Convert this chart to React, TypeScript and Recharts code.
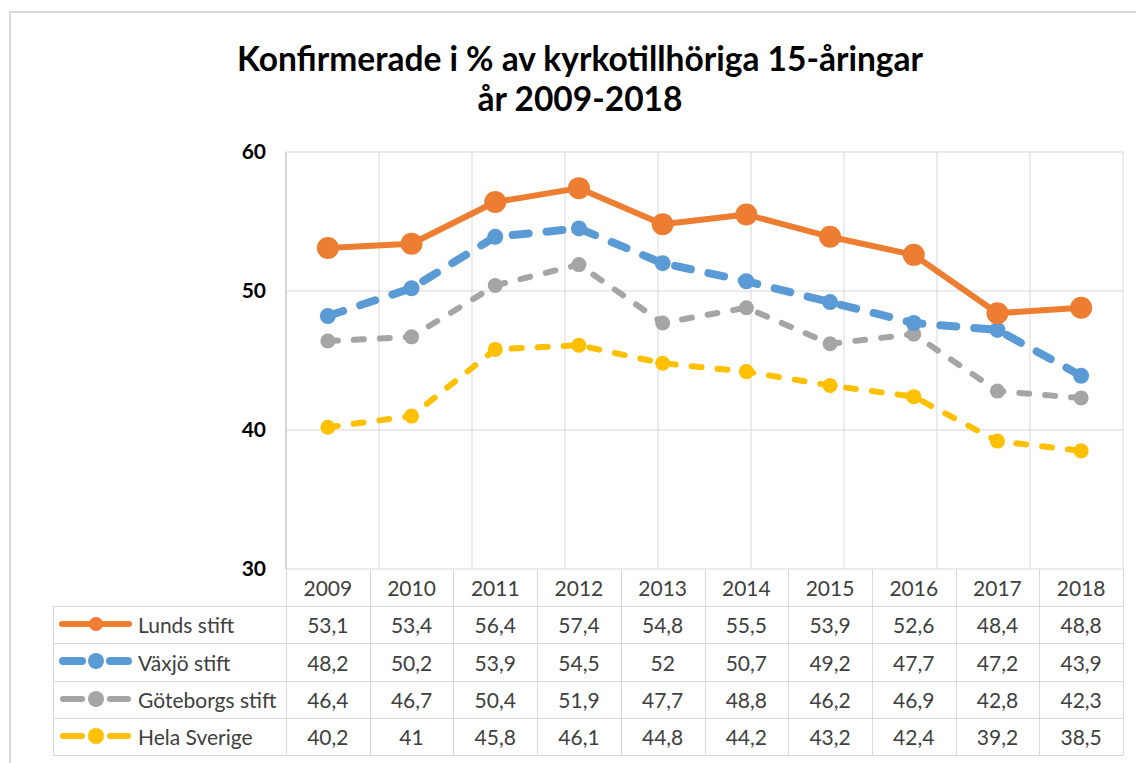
import { CartesianGrid, Line, LineChart, XAxis, YAxis } from 'recharts'

// Konfirmerade i % av kyrkotillhöriga 15-åringar, 2009-2018
const years = ['2009', '2010', '2011', '2012', '2013', '2014', '2015', '2016', '2017', '2018']
const lunds = [53.1, 53.4, 56.4, 57.4, 54.8, 55.5, 53.9, 52.6, 48.4, 48.8]
const vaxjo = [48.2, 50.2, 53.9, 54.5, 52, 50.7, 49.2, 47.7, 47.2, 43.9]
const goteborg = [46.4, 46.7, 50.4, 51.9, 47.7, 48.8, 46.2, 46.9, 42.8, 42.3]
const helaSverige = [40.2, 41, 45.8, 46.1, 44.8, 44.2, 43.2, 42.4, 39.2, 38.5]
const yTicks = [30, 40, 50, 60]
const gridTicks = [0, 1, 2, 3, 4, 5, 6, 7, 8, 9, 10]

const FONT = 'Lato, "Liberation Sans", sans-serif'
const TEXT = '#404040'
const GRID = '#d9d9d9'

// layout (px i fönstret)
const W = 1136
const H = 763
const PLOT_LEFT = 286
const PLOT_RIGHT = 1123
const PLOT_TOP = 152
const PLOT_BOTTOM = 569
const HEADER_BOTTOM = 606
const ROW_TOPS = [606, 643, 681, 718]
const TABLE_BOTTOM = 755
const TABLE_LEFT = 53
const COL_W = (PLOT_RIGHT - PLOT_LEFT) / years.length

type Serie = {
  key: string
  name: string
  values: number[]
  color: string
  width: number
  dash?: string
  r: number
}

const series: Serie[] = [
  { key: 'lunds', name: 'Lunds stift', values: lunds, color: '#ED7D31', width: 6, r: 11 },
  { key: 'vaxjo', name: 'Växjö stift', values: vaxjo, color: '#5B9BD5', width: 8, dash: '16 18', r: 8 },
  { key: 'goteborg', name: 'Göteborgs stift', values: goteborg, color: '#A5A5A5', width: 6, dash: '10 16', r: 7.5 },
  { key: 'sverige', name: 'Hela Sverige', values: helaSverige, color: '#FFC000', width: 6, dash: '10 16', r: 7.5 },
]

const data = years.map((year, i) => {
  const row: Record<string, string | number> = { year }
  series.forEach((s) => { row[s.key] = s.values[i] })
  return row
})

const fmt = (v: number) => String(v).replace('.', ',')

function YearTick(props: any) {
  const { x, y, payload } = props
  return (
    <text x={x} y={y + 18} textAnchor="middle" dominantBaseline="central" fontFamily={FONT} fontSize={21} fill={TEXT}>
      {payload.value}
    </text>
  )
}

function LegendKey({ s }: { s: Serie }) {
  const cy = 18
  return (
    <svg width={80} height={36} style={{ position: 'absolute', left: 56, top: 0 }}>
      {s.dash ? (
        <>
          <line x1={7} x2={26} y1={cy} y2={cy} stroke={s.color} strokeWidth={s.width} strokeLinecap="round" />
          <line x1={54} x2={72} y1={cy} y2={cy} stroke={s.color} strokeWidth={s.width} strokeLinecap="round" />
        </>
      ) : (
        <line x1={6} x2={73} y1={cy} y2={cy} stroke={s.color} strokeWidth={s.width} strokeLinecap="round" />
      )}
      <circle cx={40} cy={cy} r={s.dash ? 8 : 7} fill={s.color} />
    </svg>
  )
}

export default function App() {
  const vLines = gridTicks.map((k) => PLOT_LEFT + k * COL_W)
  const hLines = [...ROW_TOPS, TABLE_BOTTOM]
  return (
    <div style={{ position: 'absolute', left: 0, top: 0, width: W, height: H, background: '#fff', fontFamily: FONT, overflow: 'hidden' }}>
      {/* ram */}
      <div style={{ position: 'absolute', left: 9, top: 11, width: W, height: H, borderLeft: `2px solid ${GRID}`, borderTop: `2px solid ${GRID}` }} />

      <div style={{ position: 'absolute', left: 230, top: 38, width: 700, textAlign: 'center', fontWeight: 700, fontSize: 33.5, lineHeight: '40px', color: '#000', whiteSpace: 'nowrap' }}>
        Konfirmerade i % av kyrkotillhöriga 15-åringar
        <br />
        år 2009-2018
      </div>

      <div style={{ position: 'absolute', left: 0, top: 0 }}>
        <LineChart width={W} height={H} data={data} margin={{ top: PLOT_TOP, right: W - PLOT_RIGHT, bottom: H - HEADER_BOTTOM, left: PLOT_LEFT - 60 }}>
          <XAxis xAxisId="grid" type="number" domain={[0, 10]} ticks={gridTicks} hide />
          <CartesianGrid xAxisId="grid" stroke={GRID} strokeWidth={1} />
          <XAxis
            dataKey="year"
            height={HEADER_BOTTOM - PLOT_BOTTOM}
            padding={{ left: COL_W / 2, right: COL_W / 2 }}
            tickLine={false}
            axisLine={false}
            tickSize={0}
            tickMargin={0}
            tick={<YearTick />}
            interval={0}
          />
          <YAxis
            domain={[30, 60]}
            ticks={yTicks}
            width={60}
            tickLine={false}
            tickMargin={14}
            axisLine={{ stroke: '#bfbfbf' }}
            tick={{ fontFamily: FONT, fontSize: 21, fontWeight: 700, fill: '#000' }}
          />
          {[...series].reverse().map((s) => (
            <Line
              key={s.key}
              dataKey={s.key}
              name={s.name}
              stroke={s.color}
              strokeWidth={s.width}
              strokeDasharray={s.dash}
              strokeLinecap="round"
              strokeLinejoin="round"
              dot={{ r: s.r, fill: s.color, stroke: s.color, strokeWidth: 0 }}
              activeDot={false}
              isAnimationActive={false}
            />
          ))}
        </LineChart>
      </div>

      {/* datatabell */}
      {vLines.map((x, i) => (
        <div key={'v' + i} style={{ position: 'absolute', left: Math.round(x), top: PLOT_BOTTOM, width: 1, height: TABLE_BOTTOM - PLOT_BOTTOM, background: GRID }} />
      ))}
      <div style={{ position: 'absolute', left: TABLE_LEFT, top: HEADER_BOTTOM, width: 1, height: TABLE_BOTTOM - HEADER_BOTTOM, background: GRID }} />
      {hLines.map((y, i) => (
        <div key={'h' + i} style={{ position: 'absolute', left: TABLE_LEFT, top: y, width: PLOT_RIGHT - TABLE_LEFT + 1, height: 1, background: GRID }} />
      ))}
      {series.map((s, r) => {
        const top = ROW_TOPS[r]
        const h = (hLines[r + 1] ?? TABLE_BOTTOM) - top
        return (
          <div key={s.key}>
            <div style={{ position: 'absolute', left: 0, top, width: PLOT_LEFT, height: h }}>
              <LegendKey s={s} />
              <div style={{ position: 'absolute', left: 138, top: 0, height: h, display: 'flex', alignItems: 'center', fontSize: 21, color: TEXT, whiteSpace: 'nowrap' }}>
                {s.name}
              </div>
            </div>
            {s.values.map((v, c) => (
              <div
                key={c}
                style={{ position: 'absolute', left: PLOT_LEFT + c * COL_W, top, width: COL_W, height: h, display: 'flex', alignItems: 'center', justifyContent: 'center', fontSize: 21, color: TEXT }}
              >
                {fmt(v)}
              </div>
            ))}
          </div>
        )
      })}
    </div>
  )
}
